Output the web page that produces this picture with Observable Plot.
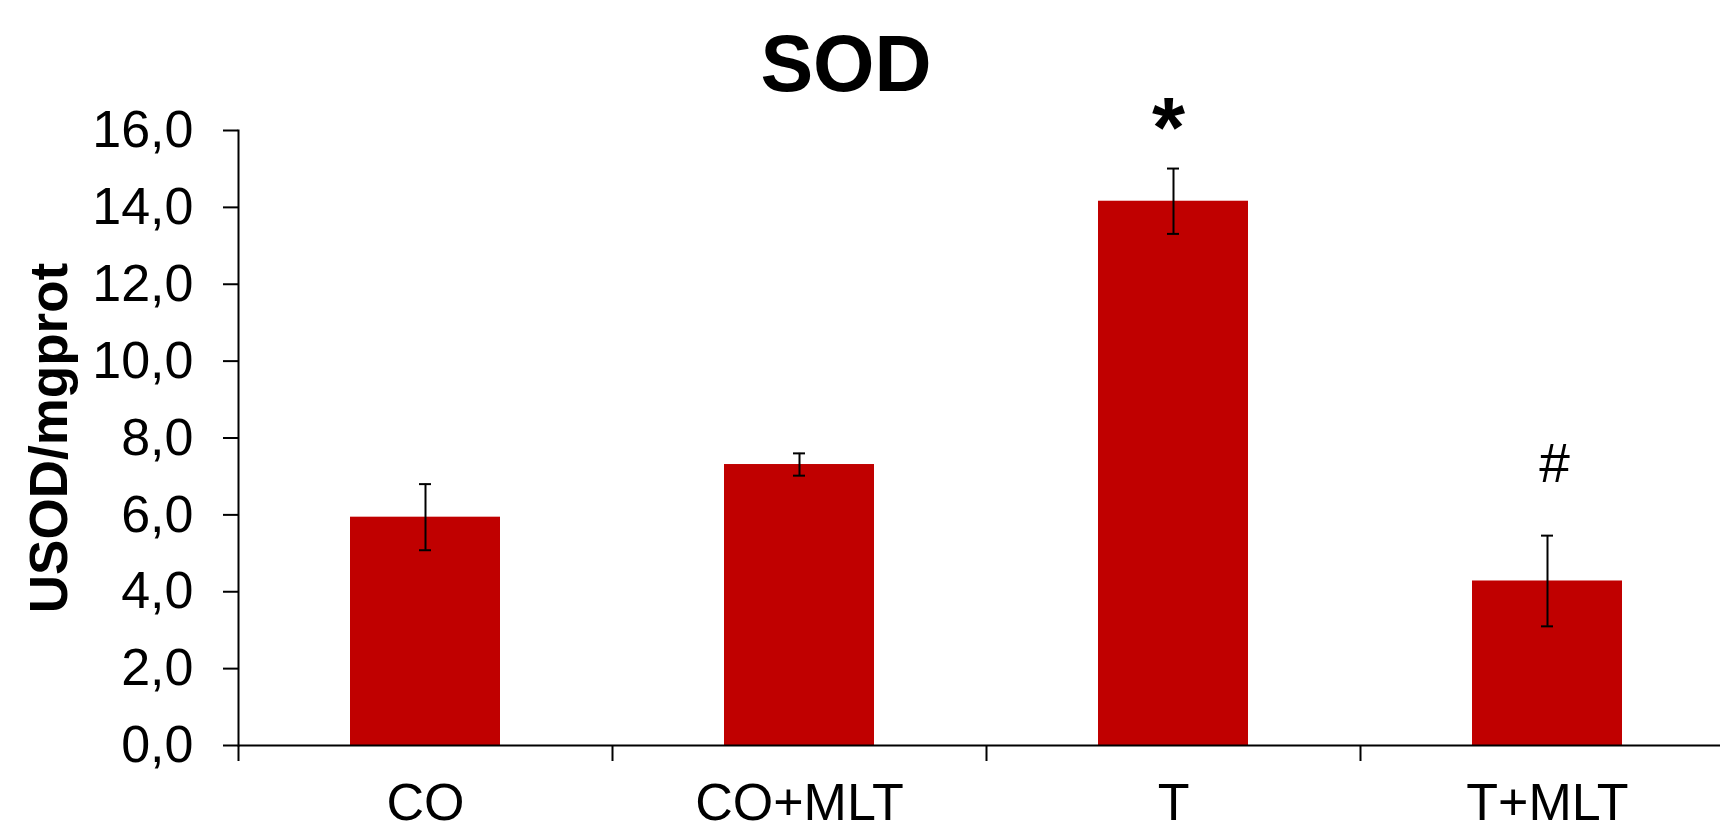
<!DOCTYPE html>
<html><head><meta charset="utf-8">
<script src="https://cdn.jsdelivr.net/npm/d3@7"></script>
<script src="https://cdn.jsdelivr.net/npm/@observablehq/plot@0.6"></script>
<style>
body{margin:0;background:#fff;overflow:hidden}
#wrap{position:relative;width:1720px;height:831px;overflow:hidden}
#title{position:absolute;left:0;top:24px;width:1692px;text-align:center;font:bold 79px/79px "Liberation Sans",Arial,sans-serif;color:#000}
#chart{position:absolute;left:0;top:0}
</style></head><body>
<div id="wrap"><div id="chart"></div><div id="title">SOD</div></div>
<script>
const groups = ["CO", "CO+MLT", "T", "T+MLT"];
const means = [5.94, 7.31, 14.16, 4.28];
const errors = [0.86, 0.29, 0.85, 1.18];
const signif = ["", "", "*", "#"];
const yTicks = [0, 2, 4, 6, 8, 10, 12, 14, 16];
const yLabel = "USOD/mgprot";

const data = groups.map((g, i) => ({group: g, mean: means[i], err: errors[i], sig: signif[i]}));
const fmt = d => d3.format(".1f")(d).replace(".", ",");

const chart = Plot.plot({
  width: 1720, height: 831,
  marginTop: 130, marginBottom: 86, marginLeft: 238, marginRight: 0,
  style: {fontFamily: '"Liberation Sans", Arial, sans-serif', color: "#000", background: "transparent"},
  x: {type: "band", domain: groups, range: [238, 1734], padding: 0, round: false},
  y: {domain: [0, 16]},
  marks: [
    Plot.barY(data, {x: "group", y: "mean", fill: "#C00000", insetLeft: 112, insetRight: 112}),
    Plot.ruleX(data, {x: "group", y1: d => d.mean - d.err, y2: d => d.mean + d.err, stroke: "#000", strokeWidth: 2}),
    Plot.tickY(data, {x: "group", y: d => d.mean + d.err, insetLeft: 181, insetRight: 181, stroke: "#000", strokeWidth: 2}),
    Plot.tickY(data, {x: "group", y: d => d.mean - d.err, insetLeft: 181, insetRight: 181, stroke: "#000", strokeWidth: 2}),
    Plot.ruleY([0], {stroke: "#000", strokeWidth: 2}),
    Plot.frame({anchor: "left", stroke: "#000", strokeWidth: 2}),
    Plot.ruleX(groups, {x: d => d, y1: 0, y2: 0, dx: -187, insetBottom: -16, stroke: "#000", strokeWidth: 2}),
    Plot.axisY({ticks: yTicks, tickFormat: fmt, tickSize: 15, tickPadding: 30, fontSize: 52, label: null, strokeWidth: 2}),
    Plot.axisX({tickSize: 0, tickPadding: 38, fontSize: 52, label: null}),
    Plot.text([yLabel], {frameAnchor: "left", dx: -188, dy: 0, rotate: -90, fontSize: 53, fontWeight: "bold", lineAnchor: "middle", textAnchor: "middle", fill: "#000"}),
    Plot.text(data.filter(d => d.sig === "*"), {x: "group", y: d => d.mean + d.err, text: "sig", fontSize: 85, fontWeight: "bold", lineAnchor: "top", dy: -72, dx: -5, fill: "#000"}),
    Plot.text(data.filter(d => d.sig === "#"), {x: "group", y: d => d.mean + d.err, text: "sig", fontSize: 55, lineAnchor: "top", dy: -93, dx: 7, fill: "#000"})
  ]
});
document.getElementById("chart").append(chart);
</script>
</body></html>
